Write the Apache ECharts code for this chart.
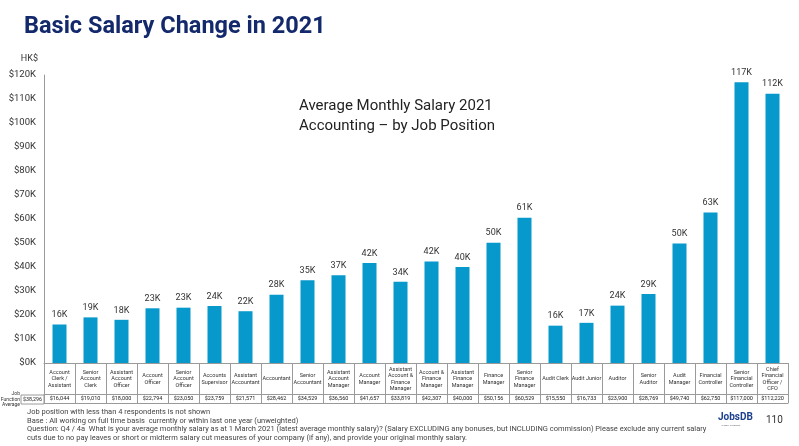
<!DOCTYPE html>
<html>
<head>
<meta charset="utf-8">
<script src="https://cdn.jsdelivr.net/npm/echarts@6/dist/echarts.min.js"></script>
<style>
html,body{margin:0;padding:0;background:#fff;}
#chart{width:799px;height:446px;}
</style>
</head>
<body>
<div id="chart"></div>
<script>
var categories = [
  "Account\nClerk /\nAssistant", "Senior\nAccount\nClerk", "Assistant\nAccount\nOfficer", "Account\nOfficer",
  "Senior\nAccount\nOfficer", "Accounts\nSupervisor", "Assistant\nAccountant", "Accountant",
  "Senior\nAccountant", "Assistant\nAccount\nManager", "Account\nManager", "Assistant\nAccount &\nFinance\nManager",
  "Account &\nFinance\nManager", "Assistant\nFinance\nManager", "Finance\nManager", "Senior\nFinance\nManager",
  "Audit Clerk", "Audit Junior", "Auditor", "Senior\nAuditor",
  "Audit\nManager", "Financial\nController", "Senior\nFinancial\nController", "Chief\nFinancial\nOfficer /\nCFO"
];
var salaries = [
  16044, 19010, 18000, 22794, 23050, 23759, 21571, 28462,
  34529, 36560, 41657, 33819, 42307, 40000, 50156, 60529,
  15550, 16733, 23900, 28769, 49740, 62750, 117000, 112220
];
var jobFunctionAverage = 38296;
var yTicks = { min: 0, max: 120000, interval: 10000 };
var titleText = "Basic Salary Change in 2021";
var subtitleLines = ["Average Monthly Salary 2021", "Accounting \u2013 by Job Position"];
var footnotes = [
  "Job position with less than 4 respondents is not shown",
  "Base : All working on full time basis  currently or within last one year (unweighted)",
  "Question: Q4 / 4a  What is your average monthly salary as at 1 March 2021 (latest average monthly salary)? (Salary EXCLUDING any bonuses, but INCLUDING commission) Please exclude any current salary",
  "cuts due to no pay leaves or short or midterm salary cut measures of your company (if any), and provide your original monthly salary."
];

function money(v){ return "$" + v.toLocaleString("en-US"); }
var valueLabels = salaries.map(money);

var gridColor = "#9a9a9a";
var chart = echarts.init(document.getElementById("chart"), null, {renderer: "canvas"});
var FONT = "Roboto";
var option = {
  animation: false,
  textStyle: { fontFamily: FONT },
  title: {
    text: titleText, left: 19, top: 10,
    textStyle: { fontFamily: FONT, fontSize: 23.5, fontWeight: "bold", color: "#13296b" }
  },
  grid: { left: 44, right: 11, top: 75, bottom: 83, containLabel: false },
  xAxis: [
    {
      type: "category", data: categories, position: "bottom",
      axisLine: { show: true, lineStyle: { color: gridColor, width: 1 } },
      axisTick: { show: true, length: 40, lineStyle: { color: gridColor } },
      axisLabel: { interval: 0, fontSize: 5.5, lineHeight: 6.3, color: "#333", verticalAlign: "middle", margin: 16, fontFamily: FONT }
    },
    {
      type: "category", data: valueLabels, position: "bottom", offset: 31,
      axisLine: { show: true, lineStyle: { color: gridColor, width: 1 } },
      axisTick: { show: false },
      axisLabel: { interval: 0, fontSize: 5.5, color: "#222", verticalAlign: "middle", margin: 4.5, fontFamily: FONT }
    },
    {
      type: "category", data: valueLabels, position: "bottom", offset: 40,
      axisLine: { show: true, lineStyle: { color: gridColor, width: 1 } },
      axisTick: { show: false }, axisLabel: { show: false }
    }
  ],
  yAxis: {
    type: "value", min: yTicks.min, max: yTicks.max, interval: yTicks.interval,
    name: "HK$", nameLocation: "end", nameGap: 12,
    nameTextStyle: { fontSize: 9, color: "#333", align: "right", padding: [0, 6, 0, 0], fontFamily: FONT },
    axisLine: { show: true, lineStyle: { color: gridColor } },
    axisTick: { show: false },
    splitLine: { show: false },
    axisLabel: { fontSize: 9.5, color: "#333", margin: 8, fontFamily: FONT,
      formatter: function(v){ return "$" + (v/1000) + "K"; } }
  },
  series: [{
    type: "bar", data: salaries, xAxisIndex: 0, barWidth: 14,
    itemStyle: { color: "#0798cc" },
    label: { show: true, position: "top", distance: 5, fontSize: 9, color: "#333", fontFamily: FONT,
      formatter: function(p){ return Math.round(p.value/1000) + "K"; } }
  }],
  graphic: [
    { type: "text", left: 299, top: 96,
      style: { text: subtitleLines.join("\n"), font: "15px Roboto", fill: "#222", lineHeight: 20 } },
    { type: "rect", shape: { x: 21, y: 395, width: 23, height: 9 },
      style: { fill: "none", stroke: gridColor, lineWidth: 1 } },
    { type: "text", x: 32.5, y: 399.5,
      style: { text: money(jobFunctionAverage), font: "5.3px Roboto", fill: "#222", align: "center", verticalAlign: "middle" } },
    { type: "text", x: 20, y: 399.5,
      style: { text: "Job\nFunction\nAverage", font: "5px Roboto", fill: "#333", align: "right", verticalAlign: "middle", lineHeight: 5.5 } },
    { type: "text", x: 27, y: 407.5,
      style: { text: footnotes.join("\n"), font: "7.5px Roboto", fill: "#444", lineHeight: 8.8 } },
    { type: "text", x: 718, y: 412,
      style: { text: "JobsDB", font: "bold 10px Roboto", fill: "#1b3f8f" } },
    { type: "text", x: 731, y: 424,
      style: { text: "a SEEK Company", font: "2.5px Roboto", fill: "#667", align: "center" } },
    { type: "text", x: 766, y: 415,
      style: { text: "110", font: "10px Roboto", fill: "#333" } }
  ]
};
chart.setOption(option);
</script>
</body>
</html>
